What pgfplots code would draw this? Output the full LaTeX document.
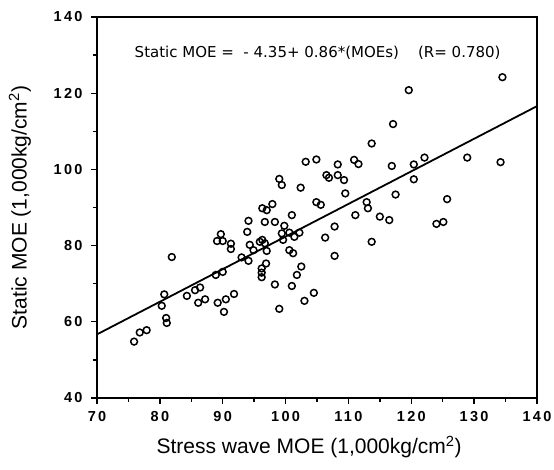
\documentclass[border=0pt]{standalone}
\usepackage{pgfplots}
\pgfplotsset{compat=1.18}
\usepackage{fontspec}
\setmainfont{Liberation Sans}
\newfontfamily\tickfont[LetterSpace=16]{Liberation Sans}
\newfontfamily\notefont{DejaVu Sans}

\pgfplotstableread{
x y
75.9 54.8
76.8 57.2
77.9 57.8
81.9 77.0
80.7 67.2
80.3 64.2
81.0 61.0
81.1 59.7
84.3 66.8
85.6 68.3
86.4 69.0
86.1 65.0
87.2 65.9
88.9 72.3
90.0 73.1
89.2 65.0
90.5 65.9
91.8 67.3
90.2 62.6
89.1 81.2
89.7 83.0
90.0 81.2
91.3 80.5
91.3 79.1
93.0 76.9
94.1 76.0
94.3 80.2
94.9 78.8
93.9 83.6
94.1 86.5
96.3 89.8
97.0 89.3
97.9 90.9
96.7 86.2
98.3 86.2
101.0 88.0
99.8 85.2
95.9 81.0
96.3 81.5
96.7 80.6
97.0 78.6
99.4 83.2
99.6 81.5
100.6 83.4
101.4 82.3
102.2 83.4
100.6 78.8
101.2 78.0
96.9 75.3
96.2 74.0
96.2 72.9
96.2 71.7
102.5 74.5
101.8 72.3
101.0 69.4
98.3 69.8
103.0 65.5
104.5 67.6
99.0 63.4
104.9 91.4
105.6 90.7
109.5 93.7
106.3 82.1
107.8 85.0
107.8 77.3
111.1 88.0
112.9 91.4
113.1 89.8
115.0 87.6
116.5 86.7
113.7 81.0
117.5 93.4
125.7 92.2
124.0 85.7
125.1 86.2
119.6 120.8
134.5 124.2
117.1 111.9
116.9 100.9
120.4 101.3
122.1 103.1
120.4 97.4
128.9 103.1
134.2 101.9
99.0 97.5
99.4 95.9
102.4 95.2
103.2 102.0
104.9 102.6
108.3 101.3
106.5 98.5
106.9 97.8
108.3 98.5
109.3 97.2
110.9 102.5
111.6 101.4
113.7 106.8
}\moedata

\begin{document}
\begin{tikzpicture}
\begin{axis}[
  scale only axis,
  width=440pt, height=381pt,
  xmin=70, xmax=140,
  ymin=40, ymax=140,
  xtick={70,80,...,140},
  ytick={40,60,...,140},
  minor x tick num=1,
  minor y tick num=1,
  tick pos=left,
  tick align=outside,
  major tick length=6pt,
  minor tick length=4pt,
  axis line style={line width=1.6pt},
  tick style={line width=1.3pt, black},
  /pgf/number format/assume math mode=true,
  ticklabel style={font=\tickfont\bfseries\fontsize{14.5}{16}\selectfont},
  yticklabel style={xshift=-5pt},
  xticklabel style={yshift=-4pt},
  xlabel={Stress wave MOE (1,000kg/cm\textsuperscript{2})},
  ylabel={Static MOE (1,000kg/cm\textsuperscript{2})},
  label style={font=\fontsize{21}{23}\selectfont},
  xlabel style={at={(axis description cs:0.482,-0.129)}, anchor=center},
  ylabel style={at={(axis description cs:-0.175,0.5)}, anchor=center},
]
\coordinate (sw) at (rel axis cs:0,0);
\coordinate (ne) at (rel axis cs:1,1);
\addplot[black, line width=1.8pt] coordinates {(70,56.7) (140,116.6)};
\addplot[only marks, mark=o, mark size=3.4pt, mark options={line width=1.5pt, black}]
  table[x=x, y=y] {\moedata};
\node[font=\notefont\fontsize{15}{17}\selectfont] at (axis cs:105.1,130.5)
  {Static MOE =\ \ - 4.35+ 0.86*(MOEs)\ \ \ \ (R= 0.780)};
\end{axis}
\pgfresetboundingbox
\path ([xshift=-97pt,yshift=-72pt]sw) rectangle ([xshift=17pt,yshift=17pt]ne);
\end{tikzpicture}
\end{document}
